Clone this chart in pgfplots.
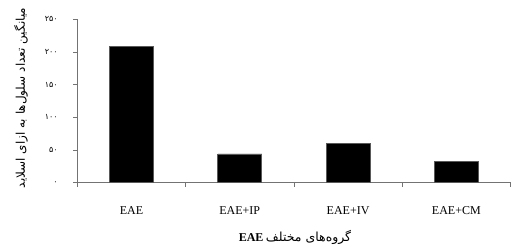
\documentclass[border=0pt]{standalone}
\usepackage{fontspec}
\setmainfont{Liberation Serif}
\newfontfamily\arabicfont[Script=Arabic]{DejaVu Sans}
\usepackage{pgfplots}
\pgfplotsset{compat=1.18}
\TeXXeTstate=1
\begin{document}
\begin{tikzpicture}
\useasboundingbox (-77.3pt,-61.3pt) rectangle (435.7pt,182.7pt);
\begin{axis}[
  at={(0,0)}, anchor=south west,
  scale only axis, width=433.2pt, height=163.4pt,
  xmin=-0.5, xmax=3.5, ymin=0, ymax=250,
  axis lines*=left,
  axis line style={draw=gray!90!black, line width=0.8pt},
  tick style={draw=gray!90!black, line width=0.8pt},
  tick align=outside,
  major tick length=4pt, minor tick length=4pt,
  xtick={0,1,2,3},
  xticklabels={EAE,EAE+IP,EAE+IV,EAE+CM},
  major x tick style={draw=none},
  minor xtick={-0.5,0.5,1.5,2.5,3.5},
  xticklabel style={font=\fontsize{12}{14}\selectfont, yshift=-16pt},
  ytick={0,50,100,150,200,250},
  yticklabels={۰,۵۰,۱۰۰,۱۵۰,۲۰۰,۲۵۰},
  yticklabel style={font=\arabicfont\fontsize{8}{9}\selectfont, xshift=-12pt},
  ylabel={\arabicfont\fontsize{12}{14}\selectfont\beginR میانگین تعداد سلول‌ها به ازای اسلاید\endR},
  ylabel style={at={(axis description cs:-0.13,0.518)}, anchor=center},
  xlabel={{\fontsize{12}{14}\selectfont\bfseries EAE} {\arabicfont\fontsize{12.5}{14}\selectfont\beginR گروه‌های مختلف\endR}},
  xlabel style={at={(axis description cs:0.5025,-0.335)}, anchor=center},
  ybar, bar width=44pt,
]
\addplot[fill=black, draw=gray!70!black, line width=0.6pt] coordinates {(0,209) (1,44) (2,60) (3,32)};
\end{axis}
\end{tikzpicture}
\end{document}
